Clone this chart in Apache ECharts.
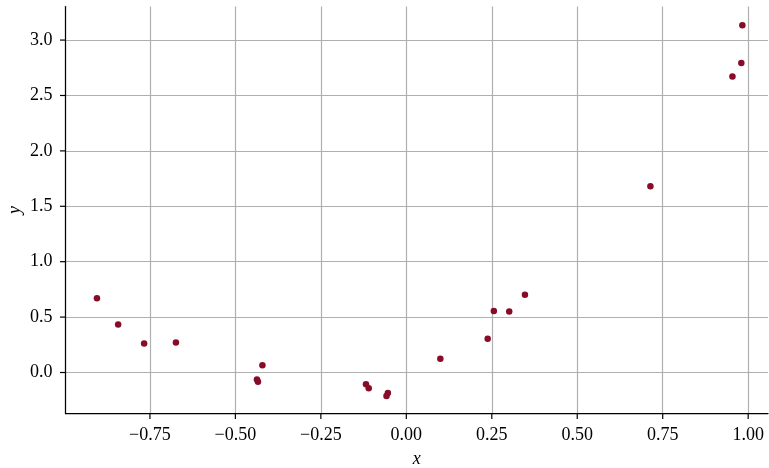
<!DOCTYPE html>
<html>
<head>
<meta charset="utf-8">
<script src="https://cdn.jsdelivr.net/npm/echarts@6/dist/echarts.min.js"></script>
<style>html,body{margin:0;padding:0;background:#fff}#c{width:769px;height:468px}</style>
</head>
<body>
<div id="c"></div>
<script>
const xValues = [-0.905, -0.843, -0.767, -0.674, -0.421, -0.437, -0.434, -0.118, -0.110, -0.054, -0.058, 0.0995, 0.238, 0.256, 0.301, 0.347, 0.714, 0.954, 0.980, 0.983];
const yValues = [0.669, 0.434, 0.262, 0.271, 0.066, -0.063, -0.084, -0.106, -0.142, -0.184, -0.211, 0.124, 0.304, 0.554, 0.551, 0.702, 1.681, 2.672, 2.792, 3.133];
const xTicks = [-0.75, -0.5, -0.25, 0, 0.25, 0.5, 0.75, 1.0];
const yTicks = [0, 0.5, 1.0, 1.5, 2.0, 2.5, 3.0];

const X_MIN = -0.997, X_MAX = 1.058, Y_MIN = -0.370, Y_MAX = 3.303;
const points = xValues.map((x, i) => [x, yValues[i]]);
const font = "'Liberation Serif', 'DejaVu Serif', serif";
const fmt = (d) => (v) => { const s = Number(v).toFixed(d); return s.replace('-', '\u2212'); };
const TICK_LEN = 5.5;

const chart = echarts.init(document.getElementById('c'), null, {renderer: 'canvas'});
chart.setOption({
  animation: false,
  backgroundColor: '#ffffff',
  grid: {left: 65.5, right: 1, top: 6.5, bottom: 54.5, containLabel: false, outerBoundsMode: 'none'},
  xAxis: {
    type: 'value', min: X_MIN, max: X_MAX, minInterval: 0.25, maxInterval: 0.25, splitNumber: 8,
    name: 'x', nameLocation: 'middle', nameGap: 37, nameMoveOverlap: false,
    nameTextStyle: {fontFamily: font, fontStyle: 'italic', fontSize: 18, color: '#000'},
    axisLine: {show: true, onZero: false, lineStyle: {color: '#000', width: 1.25}},
    axisTick: {show: false},
    axisLabel: {customValues: xTicks, formatter: fmt(2), fontFamily: font, fontSize: 18, color: '#000', margin: 13},
    splitLine: {show: true, showMinLine: false, showMaxLine: false, lineStyle: {color: '#b0b0b0', width: 1.2}}
  },
  yAxis: {
    type: 'value', min: Y_MIN, max: Y_MAX, minInterval: 0.5, maxInterval: 0.5, splitNumber: 7,
    name: 'y', nameLocation: 'middle', nameGap: 41.5, nameMoveOverlap: false,
    nameTextStyle: {fontFamily: font, fontStyle: 'italic', fontSize: 18, color: '#000'},
    axisLine: {show: true, onZero: false, lineStyle: {color: '#000', width: 1.25}},
    axisTick: {show: false},
    axisLabel: {customValues: yTicks, formatter: fmt(1), fontFamily: font, fontSize: 18, color: '#000', margin: 13},
    splitLine: {show: true, showMinLine: false, showMaxLine: false, lineStyle: {color: '#b0b0b0', width: 1.2}}
  },
  series: [{
    type: 'scatter',
    data: points,
    symbol: 'circle',
    symbolSize: 6.5,
    itemStyle: {color: '#870c28', opacity: 1},
    clip: false,
    z: 3
  }, {
    type: 'custom', coordinateSystem: 'cartesian2d', silent: true, clip: false, z: 10,
    data: xTicks.map(v => [v, Y_MIN]),
    renderItem: (params, api) => {
      const p = api.coord([api.value(0), api.value(1)]);
      return {type: 'rect', shape: {x: p[0] - 0.6, y: p[1], width: 1.2, height: TICK_LEN}, style: {fill: '#000'}};
    }
  }, {
    type: 'custom', coordinateSystem: 'cartesian2d', silent: true, clip: false, z: 10,
    data: yTicks.map(v => [X_MIN, v]),
    renderItem: (params, api) => {
      const p = api.coord([api.value(0), api.value(1)]);
      return {type: 'rect', shape: {x: p[0] - TICK_LEN, y: p[1] - 0.6, width: TICK_LEN, height: 1.2}, style: {fill: '#000'}};
    }
  }]
});
</script>
</body>
</html>
